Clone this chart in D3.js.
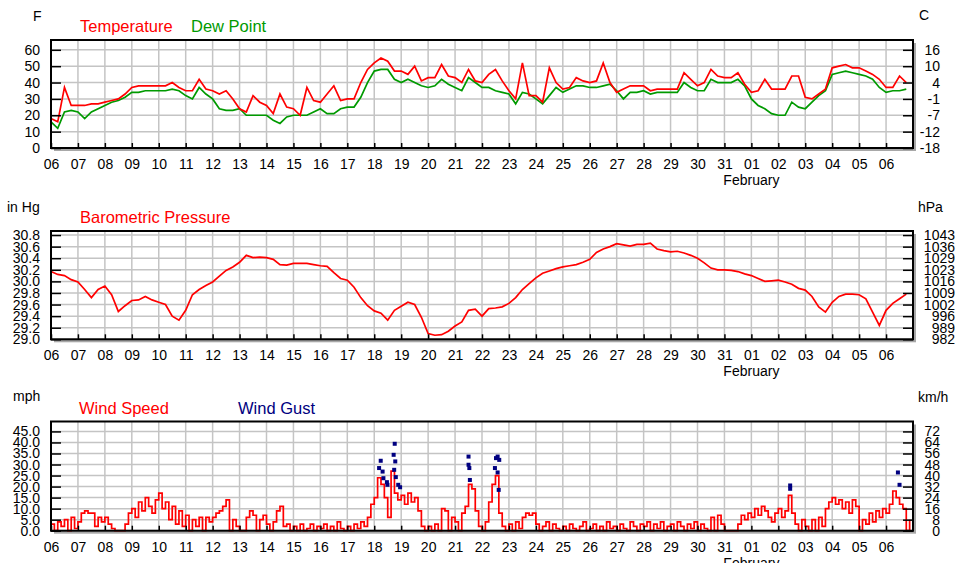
<!DOCTYPE html>
<html>
<head>
<meta charset="utf-8">
<script src="https://cdn.jsdelivr.net/npm/d3@7"></script>
<style>
  body { margin: 0; background: #fff; }
  text { font-family: "Liberation Sans", Arial, sans-serif; }
</style>
</head>
<body>
<div id="chart"></div>
<script>

// Set dimensions, plot runs from x=51 to x=913 in all three panels
const width = 975;
const height = 563;
const plotLeft = 51;
const plotRight = 913;

// time axis: 06 Jan to 06 Feb, one tick per day
const startDate = new Date(2025, 0, 6);
const endDate = new Date(2025, 1, 7);
const dayTicks = d3.timeDay.range(startDate, endDate);

// temperature (F), every 6 hours from 06 Jan 00:00
const temperature = [
  18, 16, 37, 26,  26, 26, 27, 27,  28, 29, 30, 33,  37, 38, 38, 38,
  38, 38, 40, 37,  35, 35, 42, 36,  35, 33, 35, 30,  24, 22, 32, 28,
  26, 21, 33, 25,  24, 20, 37, 29,  28, 33, 38, 29,  30, 30, 40, 48,
  52, 55, 53, 47,  47, 45, 50, 41,  43, 43, 51, 44,  43, 40, 48, 41,
  40, 45, 48, 41,  35, 30, 52, 32,  32, 28, 49, 40,  36, 37, 43, 41,
  40, 41, 52, 40,  34, 36, 38, 38,  38, 35, 36, 36,  36, 36, 46, 42,
  38, 40, 48, 44,  43, 43, 46, 39,  34, 35, 42, 36,  36, 36, 44, 44,
  31, 30, 33, 36,  49, 50, 51, 49,  49, 47, 45, 42,  37, 37, 44, 40
];

// dew point (F), every 6 hours
const dewPoint = [
  16, 12, 22, 23,  22, 18, 22, 24,  26, 28, 29, 31,  34, 34, 35, 35,
  35, 35, 36, 35,  32, 30, 37, 33,  30, 24, 23, 23,  24, 20, 20, 20,
  20, 17, 15, 19,  20, 20, 20, 22,  24, 21, 21, 24,  25, 25, 31, 40,
  47, 48, 48, 42,  40, 42, 40, 38,  37, 38, 42, 39,  37, 35, 43, 40,
  37, 37, 35, 34,  33, 27, 34, 33,  30, 27, 32, 37,  34, 36, 38, 38,
  37, 37, 38, 39,  35, 30, 34, 34,  35, 33, 34, 34,  34, 34, 40, 37,
  35, 35, 42, 40,  40, 40, 42, 38,  30, 26, 24, 21,  20, 20, 28, 25,
  24, 28, 32, 35,  45, 46, 47, 46,  45, 44, 42, 37,  34, 35, 35, 36
];

// barometric pressure (in Hg), every 6 hours
const pressure = [
  30.17, 30.12, 30.10, 30.03,  29.99, 29.86, 29.72, 29.86,  29.92, 29.77, 29.48, 29.58,
  29.67, 29.68, 29.74, 29.68,  29.64, 29.60, 29.40, 29.33,  29.50, 29.77, 29.86, 29.93,
  29.99, 30.09, 30.19, 30.25,  30.33, 30.45, 30.41, 30.42,  30.41, 30.38, 30.29, 30.28,
  30.31, 30.31, 30.31, 30.29,  30.27, 30.26, 30.15, 30.05,  30.02, 29.90, 29.72, 29.58,
  29.49, 29.45, 29.33, 29.50,  29.57, 29.64, 29.60, 29.38,  29.10, 29.07, 29.08, 29.14,
  29.23, 29.30, 29.50, 29.52,  29.40, 29.53, 29.54, 29.56,  29.62, 29.72, 29.86, 29.96,
  30.06, 30.14, 30.18, 30.22,  30.25, 30.27, 30.29, 30.33,  30.38, 30.50, 30.56, 30.60,
  30.65, 30.63, 30.61, 30.64,  30.64, 30.66, 30.56, 30.53,  30.51, 30.52, 30.49, 30.45,
  30.40, 30.32, 30.23, 30.20,  30.20, 30.19, 30.17, 30.13,  30.10, 30.05, 30.00, 30.01,
  30.02, 29.99, 29.95, 29.88,  29.85, 29.74, 29.56, 29.47,  29.64, 29.74, 29.78, 29.78,
  29.77, 29.70, 29.47, 29.24,  29.50, 29.62, 29.70, 29.78
];

// wind speed (mph), every 3 hours
const windSpeed = [
  3, 0, 4, 2, 5, 0, 6, 1,      4, 8, 9, 8, 8, 2, 6, 4,
  6, 3, 1, 0, 0, 0, 3, 8,      10, 6, 13, 9, 15, 11, 8, 14,
  17, 10, 13, 5, 11, 3, 9, 2,  7, 0, 5, 2, 6, 0, 6, 4,
  6, 8, 9, 11, 14, 0, 5, 2,    0, 0, 6, 9, 7, 0, 5, 7,
  3, 0, 4, 9, 11, 2, 3, 0,     2, 0, 3, 0, 1, 3, 0, 2,
  1, 3, 0, 2, 0, 4, 1, 0,      2, 0, 3, 1, 4, 2, 6, 12,
  15, 24, 21, 15, 6, 27, 17, 14,  16, 12, 17, 13, 15, 9, 2, 0,
  2, 0, 3, 0, 10, 9, 0, 6,     4, 0, 8, 11, 21, 19, 9, 2,
  0, 4, 13, 21, 25, 8, 2, 0,   3, 0, 4, 1, 6, 8, 7, 8,
  3, 0, 2, 4, 0, 3, 1, 0,      2, 0, 3, 1, 0, 2, 4, 0,
  1, 3, 0, 2, 0, 4, 1, 2,      0, 3, 1, 0, 4, 2, 0, 3,
  2, 4, 0, 3, 1, 4, 0, 2,      3, 0, 4, 2, 0, 3, 1, 4,
  0, 3, 1, 0, 6, 0, 7, 3,      0, 0, 0, 0, 3, 7, 5, 8,
  6, 10, 7, 11, 9, 6, 4, 8,    10, 6, 9, 16, 8, 3, 0, 5,
  2, 0, 5, 0, 6, 2, 10, 13,    15, 12, 14, 10, 13, 8, 14, 11,
  0, 5, 3, 8, 4, 9, 6, 10,     8, 12, 18, 15, 12, 10, 0, 5
];

// wind gusts: days after 06 Jan 00:00, and mph
const gustDay = [12.18, 12.24, 12.31, 12.34, 12.47, 12.49, 12.72, 12.74, 12.76, 12.78, 12.80,
                 12.89, 12.96, 15.50, 15.50, 15.53, 15.55, 16.48, 16.52, 16.58, 16.58, 16.62,
                 16.64, 27.44, 27.44, 31.44, 31.50];
const gustMph = [28.4, 31.7, 26.8, 23.8, 22.0, 20.8, 34.4, 27.6, 39.4, 31.4, 24.3,
                 20.8, 19.7, 33.6, 29.9, 28.4, 23.0, 28.4, 32.9, 33.6, 26.4, 18.5,
                 32.1, 19.0, 20.5, 26.4, 20.8];

// tick values and the labels on the right hand axes
const tempTicks = [0, 10, 20, 30, 40, 50, 60];
const celsiusLabels = ["-18", "-12", "-7", "-1", "4", "10", "16"];
const pressTicks = [29.0, 29.2, 29.4, 29.6, 29.8, 30.0, 30.2, 30.4, 30.6, 30.8];
const hpaLabels = ["982", "989", "996", "1002", "1009", "1016", "1023", "1029", "1036", "1043"];
const windTicks = [0, 5, 10, 15, 20, 25, 30, 35, 40, 45];
const kmhLabels = ["0", "8", "16", "24", "32", "40", "48", "56", "64", "72"];

const svg = d3.select("#chart")
  .append("svg")
  .attr("width", width)
  .attr("height", height);

// shared time scale
const x = d3.scaleTime()
  .domain([startDate, endDate])
  .range([plotLeft, plotRight]);

const every6h = (d, i) => d3.timeHour.offset(startDate, i * 6);
const every3h = (d, i) => d3.timeHour.offset(startDate, i * 3);

// background and shadow of one panel
function panelBack(top, bottom) {
  svg.append("rect")
    .attr("x", plotLeft + 3).attr("y", top + 3)
    .attr("width", plotRight - plotLeft).attr("height", bottom - top)
    .attr("fill", "#a8a8a8");
  svg.append("rect")
    .attr("x", plotLeft).attr("y", top)
    .attr("width", plotRight - plotLeft).attr("height", bottom - top)
    .attr("fill", "#fff");
}

function grid(y, top, bottom, ticks) {
  const g = svg.append("g")
    .attr("stroke", "#c4c4c4")
    .attr("stroke-width", 1.5);
  g.selectAll(".vgrid")
    .data(dayTicks.slice(1))
    .join("line")
      .attr("x1", d => x(d)).attr("x2", d => x(d))
      .attr("y1", top).attr("y2", bottom);
  g.selectAll(".hgrid")
    .data(ticks)
    .join("line")
      .attr("x1", plotLeft).attr("x2", plotRight)
      .attr("y1", d => y(d)).attr("y2", d => y(d));
}

// frame, axes and month label of one panel, drawn over the data
function panelFront(y, top, bottom, ticks, leftFmt, rightLabels, rightEnd) {
  svg.append("rect")
    .attr("x", plotLeft).attr("y", top)
    .attr("width", plotRight - plotLeft).attr("height", bottom - top)
    .attr("fill", "none")
    .attr("stroke", "#000")
    .attr("stroke-width", 2);

  // left axis, ticks point into the plot
  svg.append("g")
    .attr("transform", `translate(${plotLeft},0)`)
    .call(d3.axisLeft(y).tickValues(ticks).tickSizeInner(-10).tickSizeOuter(0)
            .tickPadding(11).tickFormat(leftFmt))
    .call(g => g.select(".domain").remove())
    .call(g => g.selectAll("line").attr("stroke", "#000").attr("stroke-width", 1.5))
    .call(g => g.selectAll("text").attr("font-size", 14).attr("fill", "#000")
            .attr("font-family", "Liberation Sans, Arial, sans-serif"));

  // right axis, labels right aligned
  svg.append("g")
    .attr("transform", `translate(${plotRight},0)`)
    .call(d3.axisRight(y).tickValues(ticks).tickSizeInner(-10).tickSizeOuter(0)
            .tickFormat((d, i) => rightLabels[i]))
    .call(g => g.select(".domain").remove())
    .call(g => g.selectAll("line").attr("stroke", "#000").attr("stroke-width", 1.5))
    .call(g => g.selectAll("text").attr("font-size", 14).attr("fill", "#000")
            .attr("font-family", "Liberation Sans, Arial, sans-serif")
            .attr("text-anchor", "end").attr("x", rightEnd - plotRight));

  // bottom day axis
  svg.append("g")
    .attr("transform", `translate(0,${bottom})`)
    .call(d3.axisBottom(x).tickValues(dayTicks).tickSizeInner(-5).tickSizeOuter(0)
            .tickPadding(11).tickFormat(d3.timeFormat("%d")))
    .call(g => g.select(".domain").remove())
    .call(g => g.selectAll("line").attr("stroke", "#000").attr("stroke-width", 1.5))
    .call(g => g.selectAll("text").attr("font-size", 14).attr("fill", "#000")
            .attr("font-family", "Liberation Sans, Arial, sans-serif"));

  svg.append("text")
    .attr("x", x(new Date(2025, 1, 1)))
    .attr("y", bottom + 37)
    .attr("text-anchor", "middle")
    .attr("font-size", 14)
    .text("February");
}

function label(tx, ty, txt, color, size, anchor) {
  svg.append("text")
    .attr("x", tx).attr("y", ty)
    .attr("fill", color)
    .attr("font-size", size)
    .attr("text-anchor", anchor || "start")
    .text(txt);
}

/*
  Temperature / Dew point
*/
const yTemp = d3.scaleLinear().domain([0, 66]).range([148, 40]);
panelBack(40, 148);
grid(yTemp, 40, 148, tempTicks);

svg.append("path")
  .datum(dewPoint)
  .attr("fill", "none")
  .attr("stroke", "#009a00")
  .attr("stroke-width", 1.7)
  .attr("d", d3.line().x((d, i) => x(every6h(d, i))).y(d => yTemp(d)));

svg.append("path")
  .datum(temperature)
  .attr("fill", "none")
  .attr("stroke", "#ff0000")
  .attr("stroke-width", 1.7)
  .attr("d", d3.line().x((d, i) => x(every6h(d, i))).y(d => yTemp(d)));

panelFront(yTemp, 40, 148, tempTicks, d3.format("d"), celsiusLabels, 940);
label(33, 21, "F", "#000", 14);
label(919, 20, "C", "#000", 14);
label(80, 31.5, "Temperature", "#ff0000", 16.5);
label(191, 31.5, "Dew Point", "#009a00", 16.5);

/*
  Barometric pressure
*/
const yPress = d3.scaleLinear().domain([29.0, 30.87]).range([339.3, 231]);
panelBack(231, 339.3);
grid(yPress, 231, 339.3, pressTicks);

svg.append("path")
  .datum(pressure)
  .attr("fill", "none")
  .attr("stroke", "#ff0000")
  .attr("stroke-width", 1.7)
  .attr("d", d3.line().x((d, i) => x(every6h(d, i))).y(d => yPress(d)));

panelFront(yPress, 231, 339.3, pressTicks, d3.format(".1f"), hpaLabels, 955);
label(7, 212, "in Hg", "#000", 14);
label(918, 212, "hPa", "#000", 14);
label(80, 222.5, "Barometric Pressure", "#ff0000", 16.5);

/*
  Wind speed / gust
*/
const yWind = d3.scaleLinear().domain([0, 49.5]).range([530.7, 421.5]);
panelBack(421.5, 530.7);
grid(yWind, 421.5, 530.7, windTicks);

svg.append("path")
  .datum(windSpeed)
  .attr("fill", "none")
  .attr("stroke", "#ff0000")
  .attr("stroke-width", 1.7)
  .attr("d", d3.line().curve(d3.curveStepAfter).x((d, i) => x(every3h(d, i))).y(d => yWind(d)));

svg.append("g")
  .selectAll("rect")
  .data(gustDay)
  .join("rect")
    .attr("x", (d) => x(new Date(+startDate + d * 864e5)) - 2)
    .attr("y", (d, i) => yWind(gustMph[i]) - 2)
    .attr("width", 4)
    .attr("height", 4)
    .attr("fill", "#000080");

panelFront(yWind, 421.5, 530.7, windTicks, d3.format(".1f"), kmhLabels, 940);
label(13, 401, "mph", "#000", 14);
label(918, 402, "km/h", "#000", 14);
label(79, 414, "Wind Speed", "#ff0000", 16.5);
label(238, 414, "Wind Gust", "#000080", 16.5);

</script>
</body>
</html>
